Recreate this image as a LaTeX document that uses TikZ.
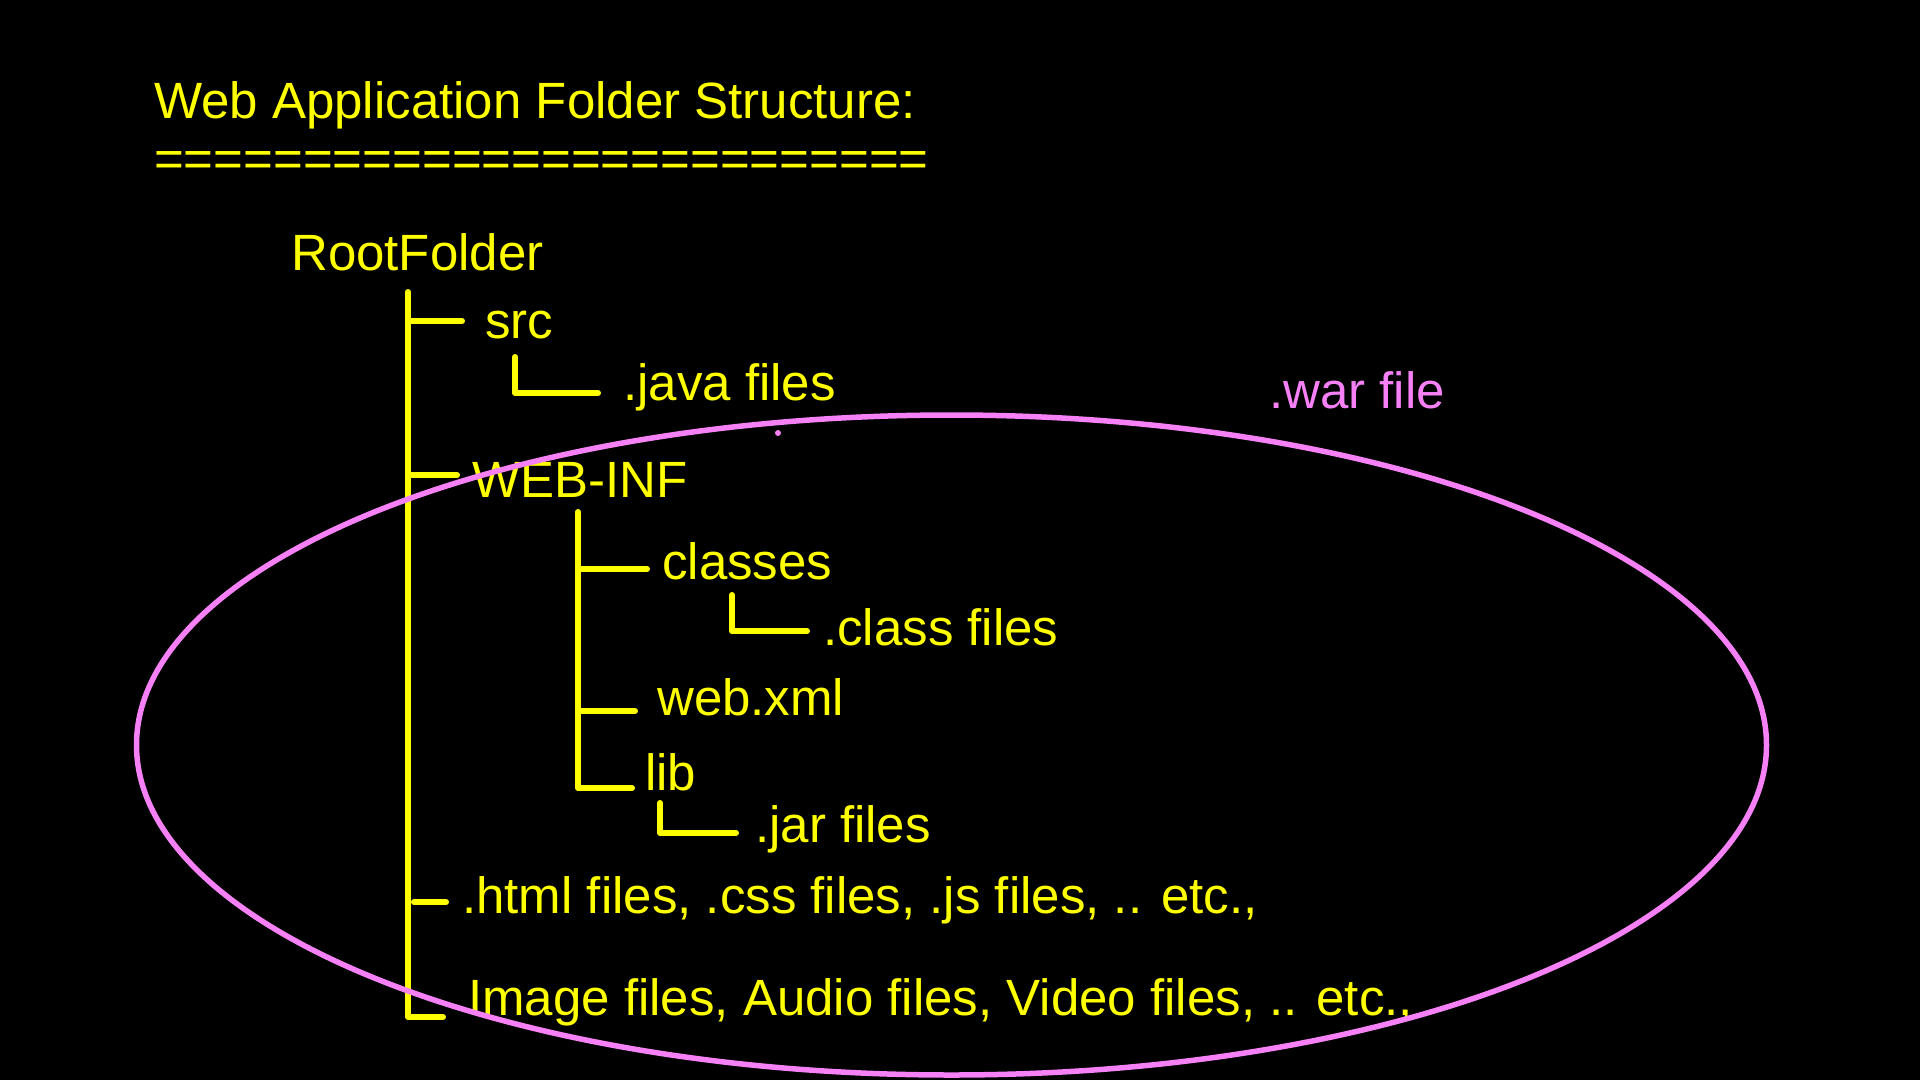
\documentclass[tikz,border=0pt]{standalone}
\usepackage{fontspec}
\setmainfont{Liberation Sans}
\usepackage{tikz}

\definecolor{treeyellow}{RGB}{255,255,0}
\definecolor{warpink}{RGB}{246,128,246}

\tikzset{
	tree/.style={draw=treeyellow, line width=6pt, line cap=round, line join=round},
	entry/.style={anchor=base west, inner sep=0pt, text=treeyellow,
		font=\fontsize{51}{60}\selectfont},
	warentry/.style={entry, text=warpink}
}

\begin{document}
\begin{tikzpicture}[x=1pt, y=-1pt]
	\def \warx {951.5}
	\def \wary {745}

	\fill[black] (0,0) rectangle (1920,1080);
	\useasboundingbox (0,0) rectangle (1920,1080);

	\node[entry] (title) at (154,118) {Web Application Folder Structure:};
	\node[entry] (rule)  at (154,176) {==========================};

	\node[entry] (root)       at (291,270)  {RootFolder};
	\node[entry] (src)        at (485,338)  {src};
	\node[entry] (javafiles)  at (623,400)  {.java files};
	\node[entry] (webinf)     at (472,497)  {WEB-INF};
	\node[entry] (classes)    at (662,579)  {classes};
	\node[entry] (classfiles) at (823,645)  {.class files};
	\node[entry] (webxml)     at (657,715)  {web.xml};
	\node[entry] (lib)        at (645,790)  {lib};
	\node[entry] (jarfiles)   at (755,842)  {.jar files};
	\node[entry] (staticfiles) at (462,913) {.html files, .css files, .js files, .. etc.,};
	\node[entry] (mediafiles) at (468,1015) {Image files, Audio files, Video files, .. etc.,};

	\node[warentry] (warfile) at (1269,408) {.war file};

	% tree joints
	\coordinate (roottop)     at (408,292);
	\coordinate (rootend)     at (443,1017);
	\coordinate (srcstub)     at (462,321);
	\coordinate (webinfstub)  at (457,475);
	\coordinate (staticstub)  at (446,902);
	\coordinate (javatop)     at (515,357);
	\coordinate (javaend)     at (598,393);
	\coordinate (webinftop)   at (578,512);
	\coordinate (classesstub) at (647,569);
	\coordinate (webxmlstub)  at (635,711);
	\coordinate (libstub)     at (632,788);
	\coordinate (classtop)    at (732,595);
	\coordinate (classend)    at (807,631);
	\coordinate (jartop)      at (660,803);
	\coordinate (jarend)      at (736,833);

	\draw[tree] (roottop) |- (rootend);
	\draw[tree] (roottop |- srcstub) -- (srcstub);
	\draw[tree] (roottop |- webinfstub) -- (webinfstub);
	\draw[tree] ([xshift=6pt]roottop |- staticstub) -- (staticstub);
	\draw[tree] (javatop) |- (javaend);
	\draw[tree] (webinftop) |- (libstub);
	\draw[tree] (webinftop |- classesstub) -- (classesstub);
	\draw[tree] (webinftop |- webxmlstub) -- (webxmlstub);
	\draw[tree] (classtop) |- (classend);
	\draw[tree] (jartop) |- (jarend);

	% the .war file ring
	\coordinate (warcentre) at (\warx,\wary);
	\draw[warpink, line width=5.5pt] (warcentre) ellipse [x radius=815pt, y radius=330pt];
	\fill[warpink] (778,433) circle (3pt);
\end{tikzpicture}
\end{document}
